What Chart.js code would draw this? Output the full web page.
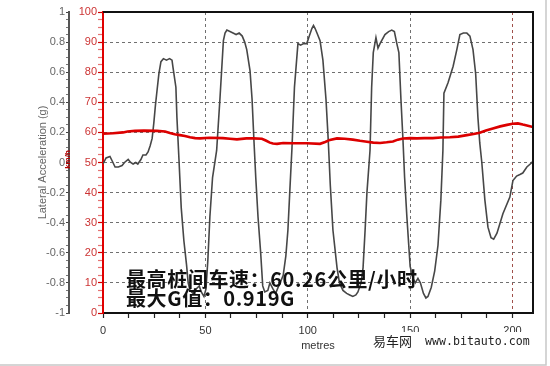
<!DOCTYPE html>
<html><head><meta charset="utf-8">
<script src="https://cdn.jsdelivr.net/npm/chart.js@4.4.0/dist/chart.umd.min.js"></script>
<style>html,body{margin:0;padding:0;background:#fff;overflow:hidden}</style>
</head><body>
<canvas id="c" width="550" height="366"></canvas>
<script>
// ---- data ----
const accelMetres = [0,1.5,3.4,4.5,5.9,7.5,9.3,10.5,12.3,13.5,14.7,16,17,18.5,19.5,21,22,23,24,24.8,25.6,26.4,27.3,28.3,29.5,31,32.5,33.7,34.2,35.6,36.1,37.1,38.2,39.5,40.8,41.6,42.5,44,45.5,47,48,49.3,50.3,51.2,52.2,53.5,55.5,57.1,58.8,59.6,60.5,62,63.5,65,66.5,68,69.2,70.2,71.8,72.8,73.7,74.6,75.7,77,78,79,80.5,81.5,83,84.3,85.5,86.5,88,89.3,90.3,91.2,92.3,93.5,95.2,96.5,98,99.5,100.5,102,102.8,103.6,104.5,106,107.4,108.9,110,111,112.3,114.3,115.5,117.2,119,120.5,122,123.5,124.5,126,127,128,128.9,130.4,131.2,132,133.3,134.3,135.3,137.7,139.5,141,142.3,143.5,144.5,145.5,146.5,147.3,148.4,150,151.4,152.5,153.8,155,156.5,157.7,158.7,160.3,162,163.6,165,166,166.5,168.5,171,172.8,174.3,176,177.7,179.2,180.7,182,183.1,184,185,186.5,188,189.5,190.8,192.4,195.3,198.7,200.2,202,203.6,205,207,209.5,210];
const accelG = [-0.01,0.03,0.04,0.01,-0.03,-0.03,-0.02,0.00,0.02,0.00,-0.01,0.00,-0.01,0.02,0.05,0.05,0.07,0.11,0.16,0.26,0.38,0.48,0.59,0.67,0.69,0.68,0.69,0.68,0.63,0.50,0.30,0.02,-0.30,-0.52,-0.68,-0.80,-0.85,-0.87,-0.84,-0.82,-0.86,-0.89,-0.84,-0.65,-0.36,-0.10,0.08,0.42,0.81,0.86,0.88,0.87,0.86,0.85,0.86,0.84,0.80,0.75,0.61,0.42,0.15,-0.10,-0.36,-0.60,-0.82,-0.86,-0.85,-0.80,-0.84,-0.87,-0.83,-0.80,-0.75,-0.62,-0.45,-0.20,0.10,0.50,0.79,0.78,0.79,0.79,0.83,0.89,0.91,0.89,0.86,0.81,0.68,0.42,0.15,-0.15,-0.45,-0.70,-0.80,-0.85,-0.87,-0.88,-0.89,-0.88,-0.86,-0.80,-0.70,-0.45,-0.20,0.08,0.50,0.73,0.83,0.76,0.79,0.85,0.87,0.88,0.87,0.79,0.73,0.42,0.15,-0.10,-0.36,-0.69,-0.77,-0.80,-0.77,-0.80,-0.87,-0.90,-0.89,-0.83,-0.72,-0.55,-0.25,0.08,0.46,0.53,0.64,0.75,0.85,0.86,0.86,0.84,0.75,0.59,0.30,0.13,0.00,-0.25,-0.43,-0.50,-0.51,-0.47,-0.34,-0.23,-0.12,-0.09,-0.08,-0.07,-0.03,0.00,0.01];
const speedMetres = [0,4.9,9.8,12,15.6,20,26.4,30.3,32.7,35,37.6,40,42.5,45,47.4,52,58.6,62,65.4,70,73.2,77.6,79.5,81.5,83,85,88,93,99.6,106,108.5,110.8,114.3,118,122,125.5,128.9,132,135.3,138.5,141.6,144,146.5,150,153.3,157,161,165,169.4,173.5,177.7,181,184,187,190.4,194,197.3,200,202.6,205,207,210];
const speedKmh = [59.6,59.7,60.0,60.3,60.5,60.6,60.5,60.3,59.8,59.4,59.1,58.8,58.4,58.1,58.0,58.2,58.1,57.9,57.7,58.0,58.0,57.9,57.3,56.6,56.3,56.2,56.5,56.4,56.4,56.2,56.8,57.5,58.0,57.9,57.6,57.2,56.9,56.6,56.5,56.7,57.0,57.6,58.0,58.1,58.0,58.1,58.1,58.3,58.4,58.6,59.1,59.5,59.9,60.6,61.3,62.0,62.5,62.9,63.0,62.6,62.3,61.8];
const xTickLabels = [0,50,100,150,200];
const gTickLabels = [-1,-0.8,-0.6,-0.4,-0.2,0,0.2,0.4,0.6,0.8,1];
const speedTickLabels = [0,10,20,30,40,50,60,70,80,90,100];
const noteLines = ['最高桩间车速：60.26公里/小时','最大G值：0.919G'];
const watermarkCn = '易车网';
const watermarkUrl = 'www.bitauto.com';
const xTitle = 'metres';
const gTitle = 'Lateral Acceleration (g)';
const speedTitle = 'km/h';

const near = (v, arr) => arr.some(a => Math.abs(a - v) < 1e-6);

const overlay = {
  id: 'overlay',
  afterDraw(chart) {
    const {ctx, chartArea: a} = chart;
    ctx.save();
    ctx.strokeStyle = '#111'; ctx.lineWidth = 2;
    ctx.beginPath(); ctx.moveTo(a.left, a.top); ctx.lineTo(a.right, a.top); ctx.lineTo(a.right, a.bottom); ctx.stroke();
    // speed axis unit, drawn over the outer axis line as in the reference
    const yG = chart.scales.yG;
    ctx.save();
    ctx.translate(yG.right - 1, (a.top + a.bottom) / 2 - 3);
    ctx.rotate(-Math.PI / 2);
    ctx.textAlign = 'center'; ctx.textBaseline = 'middle';
    ctx.fillStyle = '#b40000';
    ctx.font = 'bold 8px "Liberation Sans", Arial';
    ctx.fillText(speedTitle, 0, 0);
    ctx.restore();
    ctx.fillStyle = '#111';
    ctx.textBaseline = 'middle'; ctx.textAlign = 'left';
    ctx.font = 'bold 20px "Noto Sans CJK SC"';
    ctx.letterSpacing = '0.6px';
    ctx.fillText(noteLines[0], a.left + 23, 279);
    ctx.fillText(noteLines[1], a.left + 23, 298);
    ctx.letterSpacing = '0px';
    ctx.fillStyle = '#fff';
    ctx.fillRect(368, 332, 166, 20);
    ctx.fillStyle = '#222';
    ctx.font = '13px "Noto Sans CJK SC"';
    ctx.fillText(watermarkCn, 373, 341);
    ctx.font = '11.6px "DejaVu Sans Mono"';
    ctx.fillText(watermarkUrl, 425, 342);
    ctx.strokeStyle = '#c8c8c8'; ctx.lineWidth = 1.5;
    ctx.beginPath(); ctx.moveTo(0, 365); ctx.lineTo(546, 365); ctx.lineTo(546, 0); ctx.stroke();
    ctx.restore();
  }
};

new Chart(document.getElementById('c'), {
  type: 'line',
  data: {
    datasets: [
      {
        label: 'speed', yAxisID: 'yS', order: 0,
        data: speedMetres.map((m, i) => ({x: m, y: speedKmh[i]})),
        borderColor: '#dc0000', borderWidth: 2.6, pointRadius: 0, tension: 0
      },
      {
        label: 'lateral', yAxisID: 'yG', order: 1,
        data: accelMetres.map((m, i) => ({x: m, y: accelG[i]})),
        borderColor: '#474747', borderWidth: 1.6, pointRadius: 0, tension: 0
      }
    ]
  },
  options: {
    responsive: false, animation: false, devicePixelRatio: 1,
    layout: {padding: {left: 0, right: 17, top: 12, bottom: 0}},
    plugins: {legend: {display: false}, tooltip: {enabled: false}},
    font: {family: '"Liberation Sans", Arial, sans-serif'},
    scales: {
      x: {
        type: 'linear', position: 'bottom', min: 0, max: 210,
        afterFit: s => { s.height = 53; },
        ticks: {stepSize: 12.5, includeBounds: false, autoSkip: false, maxRotation: 0, padding: 6, color: '#333',
          font: {size: 11, family: '"Liberation Sans", Arial'},
          callback: v => near(v, xTickLabels) ? String(v) : ''},
        grid: {
          color: c => { const v = c.tick && c.tick.value; if (near(v, [200])) return '#a0504a'; return (near(v, xTickLabels) && v > 0) ? '#707070' : 'rgba(0,0,0,0)'; },
          tickColor: '#222', tickLength: 5, lineWidth: 1, tickWidth: 1.2
        },
        border: {color: '#111', width: 2, dash: [3, 3]},
        title: {display: true, text: xTitle, color: '#333', font: {size: 11, family: '"Liberation Sans", Arial'}, padding: {top: 0, bottom: 13}}
      },
      yS: {
        type: 'linear', position: 'left', weight: 0, min: 0, max: 100,
        afterFit: s => { s.width = 34; },
        ticks: {stepSize: 2.5, autoSkip: false, padding: 1, color: '#cc3333',
          font: {size: 11, family: '"Liberation Sans", Arial'},
          callback: v => near(v, speedTickLabels) ? String(v) : ''},
        grid: {
          color: c => { const v = c.tick && c.tick.value; return (near(v, speedTickLabels) && v > 0 && v < 100) ? '#707070' : 'rgba(0,0,0,0)'; },
          tickColor: c => near(c.tick && c.tick.value, speedTickLabels) ? '#d00000' : 'rgba(210,0,0,0.55)',
          tickLength: 5, lineWidth: 1, tickWidth: 1.2
        },
        border: {color: '#e00000', width: 2, dash: [3, 3]}
      },
      yG: {
        type: 'linear', position: 'left', weight: 1, min: -1, max: 1,
        afterFit: s => { s.width = 69; },
        ticks: {stepSize: 0.05, autoSkip: false, padding: 1, color: '#666',
          font: {size: 11, family: '"Liberation Sans", Arial'},
          callback: v => near(v, gTickLabels) ? String(Number(v.toFixed(1))) : ''},
        grid: {drawOnChartArea: false,
          tickColor: c => near(c.tick && c.tick.value, gTickLabels) ? '#444' : '#777',
          tickLength: 3, tickWidth: 1.2},
        border: {color: '#555', width: 2},
        title: {display: true, text: gTitle, color: '#666', font: {size: 11, family: '"Liberation Sans", Arial'}, padding: {top: 36, bottom: 0}}
      }
    }
  },
  plugins: [overlay]
});
</script>
</body></html>
